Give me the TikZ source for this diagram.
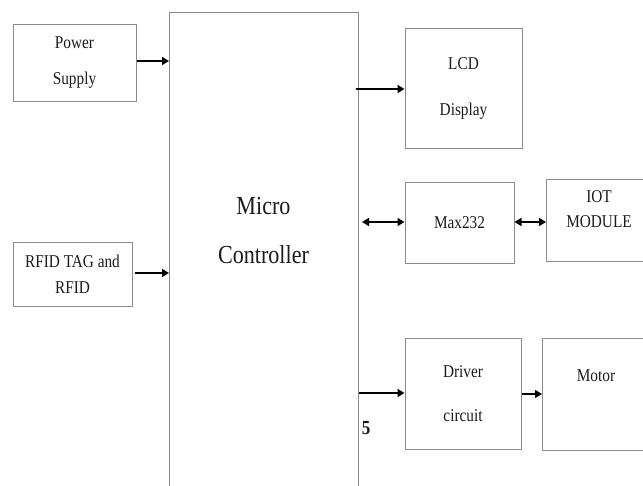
\documentclass[tikz,border=0pt]{standalone}
\usepackage{fontspec}
\setmainfont{Liberation Serif}[FakeStretch=0.85]
\usetikzlibrary{arrows.meta}
\definecolor{boxgray}{HTML}{8A8A8A}
\definecolor{txt}{HTML}{1A1A1A}
\tikzset{
  blk/.style={draw=boxgray, line width=1pt, inner sep=0pt, align=center, text=txt},
  arr/.style={-{Triangle[length=7pt,width=8pt]}, line width=1.6pt},
  darr/.style={{Triangle[length=7pt,width=8pt]}-{Triangle[length=7pt,width=8pt]}, line width=1.6pt},
  sm/.style={font=\fontsize{18}{#1}\selectfont},
}
\begin{document}
\begin{tikzpicture}[x=1pt,y=-1pt]
\useasboundingbox (0,0) rectangle (643,485);
\clip (0,0) rectangle (643,485);
% Micro controller (bottom edge off the picture)
\node[blk, minimum width=189pt, minimum height=490pt, anchor=north west] (MC) at (169,12) {};
\node[text=txt, font=\fontsize{26}{49}\selectfont, align=center] (MCt) at (263.5,231) {Micro\\Controller};
% left blocks
\node[blk, minimum width=123pt, minimum height=77pt, sm=36] (PS) at (74.5,62.5) {Power\\Supply};
\node[blk, minimum width=119pt, minimum height=64pt, sm=26] (RF) at (72.5,274) {RFID TAG and\\RFID};
% right blocks
\node[blk, minimum width=117pt, minimum height=120pt, sm=46] (LCD) at (463.5,88) {LCD\\Display};
\node[blk, minimum width=109pt, minimum height=81pt, sm=20] (MAX) at (459.5,222.5) {Max232};
\node[blk, minimum width=106pt, minimum height=82pt, anchor=west, sm=25] (IOT) at (546,220) {};
\node[text=txt, sm=25, align=center] (IOTt) at (599,209) {IOT\\MODULE};
\node[blk, minimum width=116pt, minimum height=111pt, sm=44] (DRV) at (463,393.5) {Driver\\circuit};
\node[blk, minimum width=108pt, minimum height=112pt, anchor=west] (MOT) at (542,394) {};
\node[text=txt, sm=20] (MOTt) at (596,376) {Motor};
\node[text=txt, font=\fontsize{20}{22}\bfseries\selectfont] (five) at (366,428) {5};
% connectors
\draw[arr] (PS.east |- 0,61) -- (MC.west |- 0,61);
\draw[arr] (RF.east |- 0,273) ++(2,0) -- (MC.west |- 0,273);
\draw[arr] (MC.east |- 0,89) ++(-3,0) -- (LCD.west |- 0,89);
\draw[darr] (MC.east |- 0,222) ++(3,0) -- (MAX.west |- 0,222);
\draw[darr] (MAX.east |- 0,222) -- (IOT.west |- 0,222);
\draw[arr] (MC.east |- 0,393) -- (DRV.west |- 0,393);
\draw[arr, line width=1.1pt] (DRV.east |- 0,394) -- (MOT.west |- 0,394);
\end{tikzpicture}
\end{document}
